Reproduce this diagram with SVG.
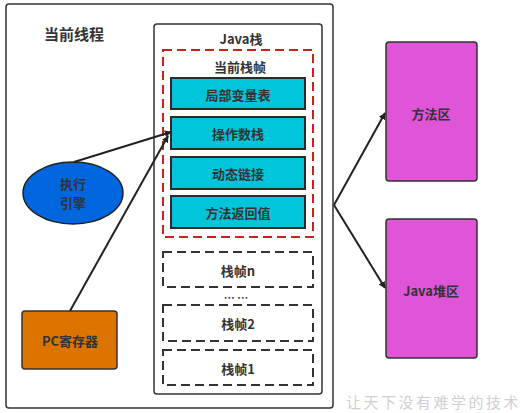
<svg xmlns="http://www.w3.org/2000/svg" width="527" height="413" viewBox="0 0 527 413">
<defs>
<marker id="ah" viewBox="0 0 10 10" refX="9" refY="5" markerWidth="7" markerHeight="7" markerUnits="userSpaceOnUse" orient="auto">
<path d="M0,0 L10,5 L0,10 z" fill="#222"/>
</marker>
<style>
text{font-family:"Noto Sans CJK SC","Noto Sans",sans-serif;font-weight:bold;text-anchor:middle;dominant-baseline:central;fill:#333}
.cy{fill:#00c5da;stroke:#2a2a2a;stroke-width:2}
.fr{fill:none;stroke:#333;stroke-width:2;stroke-dasharray:9,5}
.mg{fill:#e055d8;stroke:#333;stroke-width:1.5}
.ln{stroke:#222;stroke-width:2;fill:none;marker-end:url(#ah)}
.t13{font-size:13px}
</style>
</defs>
<rect width="527" height="413" fill="#fff"/>
<g id="thread">
<rect x="6" y="4" width="327" height="404" rx="3" fill="#fff" stroke="#333" stroke-width="1.5"/>
<text x="74" y="33" font-size="15">当前线程</text>
</g>
<g id="javastack">
<rect x="154" y="24" width="168" height="370" rx="3" fill="#fff" stroke="#333" stroke-width="1.5"/>
<text x="241" y="38" class="t13">Java栈</text>
</g>
<g id="currentframe">
<rect x="163" y="50" width="150" height="187" fill="none" stroke="#c8221a" stroke-width="2" stroke-dasharray="9,5"/>
<text x="240" y="66" class="t13">当前栈帧</text>
</g>
<g id="localvars"><rect class="cy" x="171" y="78" width="134" height="31"/><text x="238" y="94" class="t13">局部变量表</text></g>
<g id="operand"><rect class="cy" x="171" y="117" width="134" height="32"/><text x="238" y="133" class="t13">操作数栈</text></g>
<g id="dynlink"><rect class="cy" x="171" y="157" width="134" height="32"/><text x="238" y="173" class="t13">动态链接</text></g>
<g id="retaddr"><rect class="cy" x="171" y="196" width="134" height="32"/><text x="238" y="212" class="t13">方法返回值</text></g>
<g id="framen"><rect class="fr" x="163" y="252" width="150" height="35"/><text x="238" y="270" class="t13">栈帧n</text></g>
<g id="dots"><text x="236" y="297" font-size="11">… …</text></g>
<g id="frame2"><rect class="fr" x="163" y="305" width="150" height="36"/><text x="238" y="323" class="t13">栈帧2</text></g>
<g id="frame1"><rect class="fr" x="163" y="350" width="150" height="35"/><text x="238" y="368" class="t13">栈帧1</text></g>
<g id="engine">
<ellipse cx="73" cy="193" rx="50" ry="31" fill="#0066dd" stroke="#222" stroke-width="1.5"/>
<text x="73" y="183.5" class="t13">执行</text>
<text x="73" y="202.5" class="t13">引擎</text>
</g>
<g id="pc">
<rect x="22" y="311" width="95" height="58" rx="3" fill="#dd7300" stroke="#333" stroke-width="1.5"/>
<text x="70" y="340" class="t13">PC寄存器</text>
</g>
<g id="methodarea"><rect class="mg" x="386" y="42" width="91" height="139" rx="3"/><text x="431" y="113" class="t13">方法区</text></g>
<g id="heap"><rect class="mg" x="386" y="219" width="91" height="139" rx="3"/><text x="431" y="290" class="t13">Java堆区</text></g>
<g id="connectors">
<path class="ln" d="M74,162 L171,132"/>
<path class="ln" d="M70,311 L168,136"/>
<path class="ln" d="M334,205 L385,113"/>
<path class="ln" d="M334,205 L385,288"/>
</g>
<text x="346" y="401" font-size="15" style="text-anchor:start;font-family:'Noto Sans CJK SC',sans-serif;font-weight:normal;fill:#cfcfcf;letter-spacing:2.5px">让天下没有难学的技术</text>
</svg>
